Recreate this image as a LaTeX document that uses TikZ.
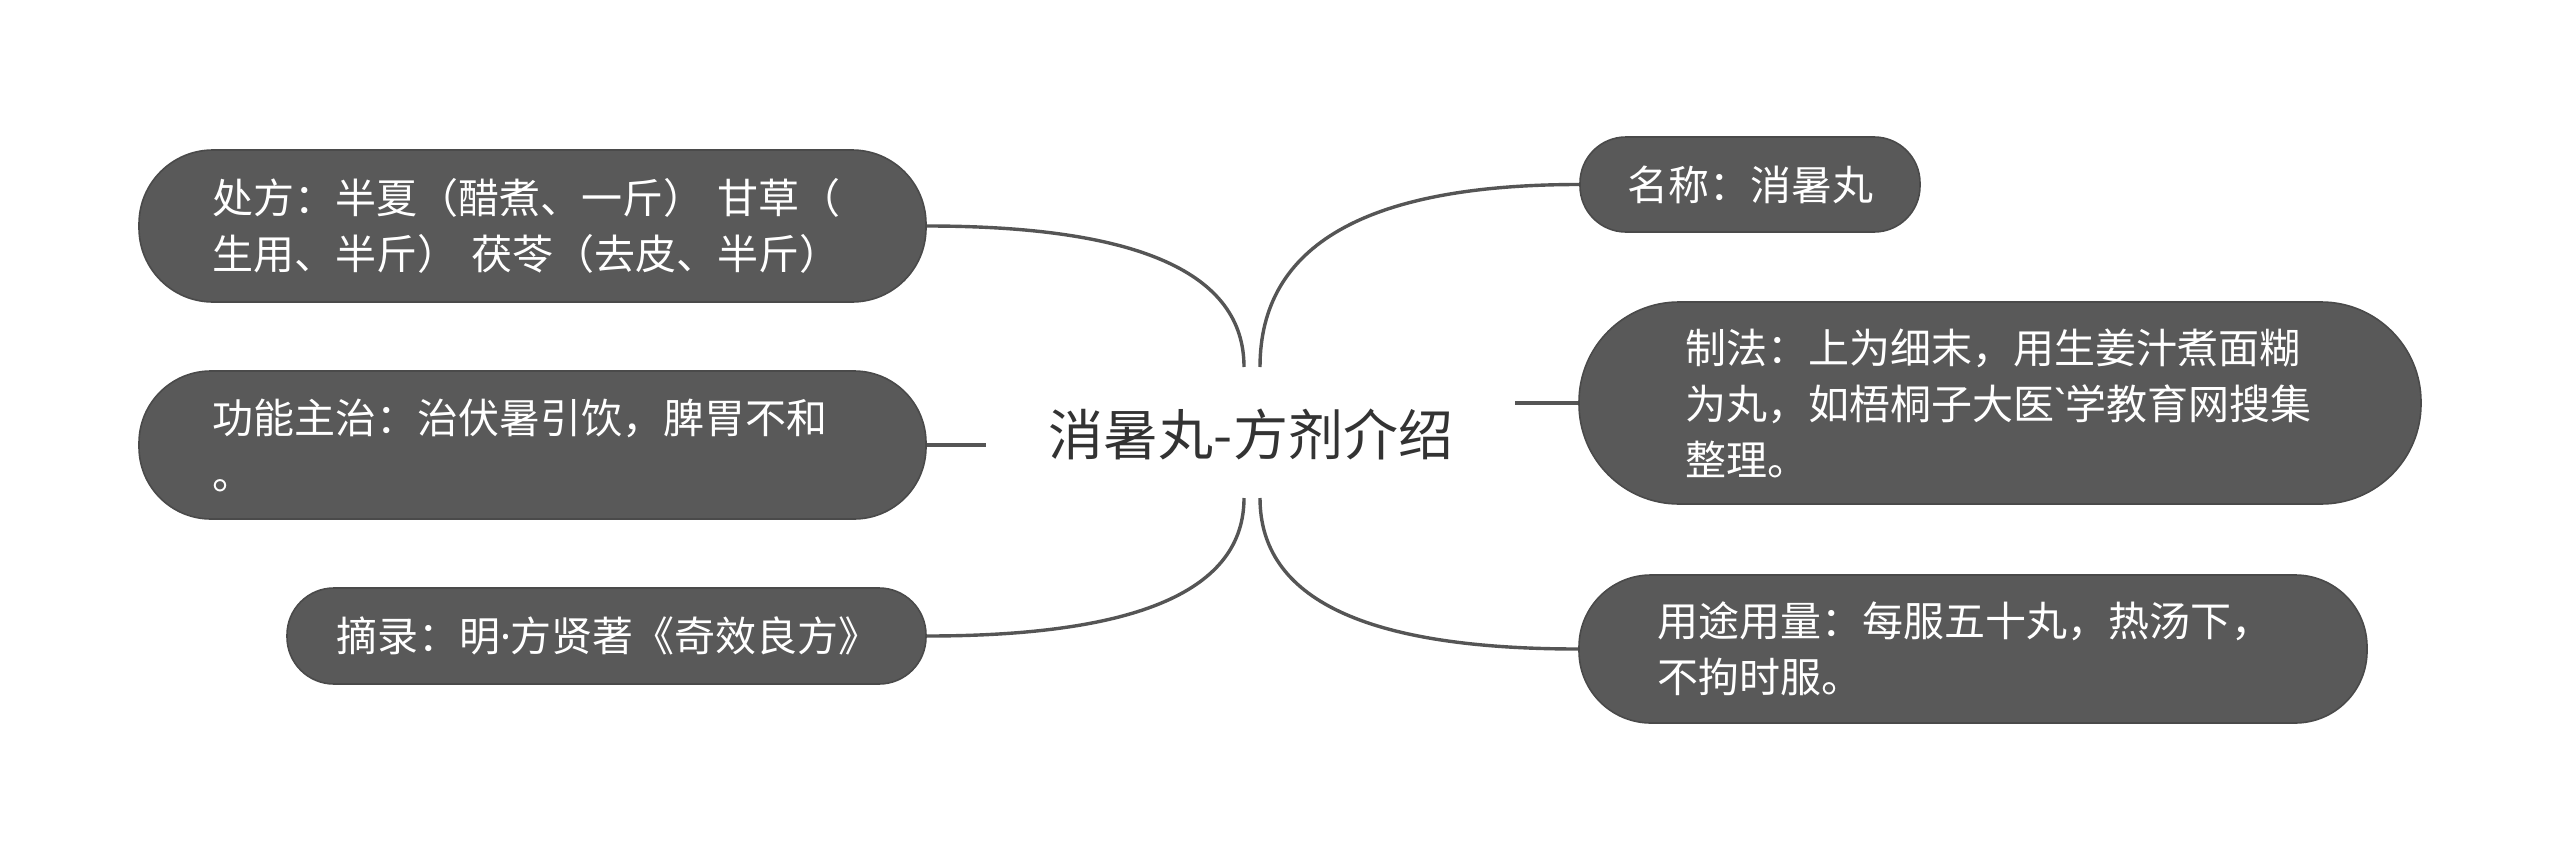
\documentclass[tikz,border=0pt]{standalone}
\usepackage{fontspec}
\newfontfamily\cjk{Noto Sans CJK SC}
\newfontfamily\latn{Noto Sans}
\definecolor{boxfill}{HTML}{595959}
\definecolor{boxline}{HTML}{4A4A4A}
\definecolor{linec}{HTML}{555555}
\definecolor{titlec}{HTML}{333333}
\begin{document}
\begin{tikzpicture}[x=0.5pt,y=-0.5pt,
  leaf/.style={rectangle, fill=boxfill, draw=boxline, line width=0.8pt, text=white,
    align=left, inner ysep=0pt, font=\cjk\fontsize{20.5pt}{28pt}\selectfont},
  conn/.style={draw=linec, line width=1.7pt},
  title/.style={font=\cjk\fontsize{27.5pt}{33pt}\selectfont, text=titlec, inner sep=0pt}]
\useasboundingbox (0,0) rectangle (2560,862);
\fill[white] (0,0) rectangle (2560,862);

\node[title] (center) at (1251,434) {消暑丸-方剂介绍};

\node[leaf, minimum width=393.5pt, minimum height=76pt, text width=320.5pt, inner xsep=36.5pt, rounded corners=37pt]
  (chufang) at (532.5,226) {处方：半夏（醋煮、一斤） 甘草（\\生用、半斤） 茯苓（去皮、半斤）};
\node[leaf, minimum width=393.5pt, minimum height=74pt, text width=320.5pt, inner xsep=36.5pt, rounded corners=36pt]
  (gongneng) at (532.5,445) {功能主治：治伏暑引饮，脾胃不和\\。};
\node[leaf, minimum width=319.5pt, minimum height=48pt, text width=270.5pt, inner xsep=24.5pt, rounded corners=23.5pt]
  (zhailu) at (606.5,636) {摘录：明{\latn ·}方贤著《奇效良方》};
\node[leaf, minimum width=170pt, minimum height=47.5pt, text width=123pt, inner xsep=23.5pt, rounded corners=23pt]
  (mingcheng) at (1750,184.5) {名称：消暑丸};
\node[leaf, minimum width=421pt, minimum height=101pt, text width=315pt, inner xsep=53pt, rounded corners=50pt]
  (zhifa) at (2000,403) {制法：上为细末，用生姜汁煮面糊\\为丸，如梧桐子大医{\latn `}学教育网搜集\\整理。};
\node[leaf, minimum width=394pt, minimum height=74pt, text width=316pt, inner xsep=39pt, rounded corners=36pt]
  (yongtu) at (1973,649) {用途用量：每服五十丸，热汤下，\\不拘时服。};

\coordinate (ctl) at (1244,367);
\coordinate (ctr) at (1260,367);
\coordinate (cbl) at (1244,498);
\coordinate (cbr) at (1260,498);
\coordinate (cml) at (986,445);
\coordinate (cmr) at (1515,403);

\draw[conn] (ctl) .. controls +(0,-94) and +(212,0) .. (chufang.east);
\draw[conn] (ctr) .. controls +(0,-122) and +(-213,0) .. (mingcheng.west);
\draw[conn] (cbl) .. controls +(0,92) and +(212,0) .. (zhailu.east);
\draw[conn] (cbr) .. controls +(0,101) and +(-213,0) .. (yongtu.west);
\draw[conn] (gongneng.east) -- (cml);
\draw[conn] (cmr) -- (zhifa.west);
\end{tikzpicture}
\end{document}
